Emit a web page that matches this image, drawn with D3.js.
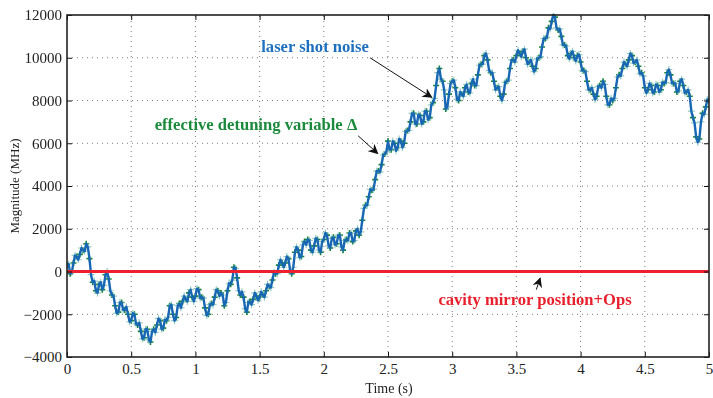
<!DOCTYPE html>
<html>
<head>
<meta charset="utf-8">
<script src="https://cdn.jsdelivr.net/npm/d3@7"></script>
<style>
  html, body { margin: 0; padding: 0; background: #fff; }
  svg { display: block; }
  text { font-family: "Liberation Serif", "Times New Roman", serif; }
</style>
</head>
<body>
<svg id="chart" width="713" height="398"></svg>
<script>
// Sampling interval (s) of the detuning trace; shot-noise samples sit halfway between.
const timeStep = 0.025;

// Effective detuning variable Δ (MHz), sampled at t = 0, 0.025, ..., 5 s
const detuning = [
  300, -100, 400, 700, 800, 1000, 1300, 600, -500, -900,
  -600, -850, -150, -350, -1100, -1600, -1900, -1450, -1800, -2000,
  -2300, -2000, -2500, -2800, -3100, -2700, -3300, -2700, -2500, -2300,
  -2650, -2300, -1600, -2000, -2150, -1500, -1400, -1300, -1000, -1200,
  -1150, -850, -1200, -1700, -2000, -1500, -1200, -900, -1000, -1600,
  -900, -600, 200, -300, -1100, -1200, -1900, -1400, -1300, -1150,
  -1200, -1100, -900, -700, -400, -100, 300, 400, 400, 600,
  -100, 900, 1000, 700, 1400, 1500, 1000, 1200, 1500, 900,
  1500, 1700, 1100, 1600, 1300, 1700, 1000, 1500, 1800, 1400,
  1900, 1700, 2400, 3100, 3500, 3800, 4300, 4700, 5000, 5500,
  6100, 5700, 6000, 5800, 6100, 6000, 6600, 7000, 7400, 6900,
  7300, 7000, 7500, 7200, 7900, 8700, 9500, 8900, 7600, 8300,
  8900, 8600, 8000, 8300, 8600, 8400, 8800, 8700, 9200, 9700,
  10100, 9900, 9300, 8900, 8600, 8200, 8300, 8900, 9500, 9900,
  10100, 10200, 10300, 10000, 9800, 9600, 9500, 10000, 10500, 10900,
  11400, 11700, 11900, 11300, 11000, 10600, 10100, 10200, 10000, 10100,
  9800, 9400, 8900, 8500, 8300, 8200, 8700, 8900, 8200, 7800,
  8000, 8600, 9200, 9500, 9700, 9900, 10100, 9800, 9600, 9300,
  8600, 8500, 8700, 8400, 8700, 8500, 8800, 9300, 9200, 8800,
  8400, 8900, 8700, 8400, 8200, 7200, 6300, 6200, 7400, 7700,
  8000
];

// Laser shot noise (MHz), sampled at t = 0.0125, 0.0375, ..., 4.9875 s
const shotNoise = [
  350, -50, 750, 550, 1100, 950, 1150, -150, -450, -1000,
  -500, -650, 0, -900, -1150, -1950, -1450, -1800, -1650, -2350,
  -1950, -2450, -2400, -3150, -2700, -3200, -2800, -2850, -2200, -2700,
  -2250, -2150, -1550, -2300, -1600, -1700, -1150, -1400, -850, -1400,
  -800, -1250, -1250, -2050, -1550, -1550, -850, -1150, -1100, -1450,
  -550, -400, 150, -900, -950, -1750, -1450, -1550, -1000, -1350,
  -950, -1200, -600, -750, -50, -100, 550, 200, 700, 50,
  200, 1150, 650, 1250, 1250, 1450, 900, 1550, 1000, 1400,
  1800, 1200, 1550, 1250, 1700, 1150, 1450, 1450, 1800, 1450,
  2000, 1850, 2950, 3100, 3850, 3850, 4700, 4650, 5450, 5600,
  5700, 6100, 5650, 6200, 5800, 6550, 6600, 7400, 6900, 7350,
  6900, 7500, 7100, 7800, 8100, 9300, 9000, 8500, 7700, 8800,
  8950, 8050, 8400, 8200, 8750, 8350, 9000, 8700, 9650, 9700,
  10200, 9400, 9300, 8500, 8650, 8000, 8850, 8950, 9900, 9800,
  10350, 10050, 10400, 9700, 9900, 9350, 9950, 10050, 10900, 10950,
  11350, 12000, 11400, 11350, 10600, 10550, 9950, 10300, 9850, 10150,
  9400, 9350, 8500, 8600, 8050, 8650, 8600, 8750, 7800, 8100,
  8100, 9100, 9150, 9800, 9600, 10200, 9750, 9900, 9250, 9150,
  8350, 8800, 8350, 8750, 8400, 8850, 8850, 9450, 8800, 8800,
  8450, 9000, 8350, 8500, 7500, 6950, 6050, 7000, 7350, 8050
];

// Cavity mirror position + Ops (MHz): flat at zero over the whole record
const mirrorTimes = [0, 5];
const mirrorValues = [0, 0];

// Axis ticks
const xTicks = [0, 0.5, 1, 1.5, 2, 2.5, 3, 3.5, 4, 4.5, 5];
const yTicks = [-4000, -2000, 0, 2000, 4000, 6000, 8000, 10000, 12000];

const labels = {
  x: "Time (s)",
  y: "Magnitude (MHz)",
  shot: "laser shot noise",
  detune: "effective detuning variable \u0394",
  mirror: "cavity mirror position+Ops"
};

const colors = {
  shotLine: "#1767b4",
  shotMark: "#8fc9c3",
  detune: "#17853c",
  mirror: "#ee2030",
  shotText: "#1d6fc0",
  detuneText: "#1b8a3c",
  mirrorText: "#e8202c"
};

const margin = { left: 67, right: 4, top: 15, bottom: 41 };
const W = 713, H = 398;

const svg = d3.select("#chart");
const x = d3.scaleLinear().domain([0, 5]).range([margin.left, W - margin.right]);
const y = d3.scaleLinear().domain([-4000, 12000]).range([H - margin.bottom, margin.top]);

const detuneData = detuning.map((v, i) => ({ t: i * timeStep, v }));
const shotData = shotNoise.map((v, i) => ({ t: (i + 0.5) * timeStep, v }));
const mirrorData = mirrorTimes.map((t, i) => ({ t, v: mirrorValues[i] }));

svg.append("defs").append("clipPath").attr("id", "plotClip")
  .append("rect")
  .attr("x", x(0)).attr("y", y(12000) - 2)
  .attr("width", x(5) - x(0)).attr("height", y(-4000) - y(12000) + 2);

// Dotted grid
const grid = svg.append("g").attr("stroke", "#555").attr("stroke-width", 0.8)
  .attr("stroke-dasharray", "1,4");
grid.selectAll(".gx").data(xTicks.slice(1, -1)).join("line")
  .attr("x1", d => x(d)).attr("x2", d => x(d))
  .attr("y1", y(-4000)).attr("y2", y(12000));
grid.selectAll(".gy").data(yTicks.slice(1, -1)).join("line")
  .attr("y1", d => y(d)).attr("y2", d => y(d))
  .attr("x1", x(0)).attr("x2", x(5));

const plot = svg.append("g").attr("clip-path", "url(#plotClip)");

// Cross marker path centred on the origin
const cross = s => `M${-s},0H${s}M0,${-s}V${s}`;

// Detuning variable: green crosses
plot.append("g").attr("stroke", colors.detune).attr("stroke-width", 1.6)
  .selectAll("path").data(detuneData).join("path")
  .attr("transform", d => `translate(${x(d.t)},${y(d.v)})`)
  .attr("d", cross(3));

// Shot-noise markers: pale crosses
plot.append("g").attr("stroke", colors.shotMark).attr("stroke-width", 1.2)
  .attr("opacity", 0.95)
  .selectAll("path").data(shotData).join("path")
  .attr("transform", d => `translate(${x(d.t)},${y(d.v)})`)
  .attr("d", cross(3.5));

// Combined trace line through both sample sets, ordered in time
const traceData = detuneData.concat(shotData).sort((a, b) => a.t - b.t);
plot.append("path").datum(traceData)
  .attr("fill", "none").attr("stroke", colors.shotLine).attr("stroke-width", 2.4)
  .attr("stroke-linejoin", "round")
  .attr("d", d3.line().x(d => x(d.t)).y(d => y(d.v)));

// Mirror position + Ops: red line at zero
plot.append("path").datum(mirrorData)
  .attr("fill", "none").attr("stroke", colors.mirror).attr("stroke-width", 3)
  .attr("d", d3.line().x(d => x(d.t)).y(d => y(d.v)));

// Axes with inward ticks (on all four sides)
const tickLen = 5;
const axisFont = 15;
const xAxisB = d3.axisBottom(x).tickValues(xTicks).tickSize(-tickLen).tickPadding(6)
  .tickFormat(d3.format("~g"));
const xAxisT = d3.axisTop(x).tickValues(xTicks).tickSize(-tickLen).tickFormat("");
const yAxisL = d3.axisLeft(y).tickValues(yTicks).tickSize(-tickLen).tickPadding(5)
  .tickFormat(d => d < 0 ? "\u2212" + Math.abs(d) : String(d));
const yAxisR = d3.axisRight(y).tickValues(yTicks).tickSize(-tickLen).tickFormat("");

function styleAxis(g) {
  g.select(".domain").remove();
  g.selectAll(".tick line").attr("stroke", "#111").attr("stroke-width", 1);
  g.selectAll(".tick text").attr("fill", "#222").style("font-size", axisFont + "px")
    .style("font-family", "'Liberation Serif', serif");
}
svg.append("g").attr("transform", `translate(0,${y(-4000)})`).call(xAxisB).call(styleAxis);
svg.append("g").attr("transform", `translate(0,${y(12000)})`).call(xAxisT).call(styleAxis);
svg.append("g").attr("transform", `translate(${x(0)},0)`).call(yAxisL).call(styleAxis);
svg.append("g").attr("transform", `translate(${x(5)},0)`).call(yAxisR).call(styleAxis);

// Frame
svg.append("rect")
  .attr("x", x(0)).attr("y", y(12000))
  .attr("width", x(5) - x(0)).attr("height", y(-4000) - y(12000))
  .attr("fill", "none").attr("stroke", "#222").attr("stroke-width", 1.6);

// Axis titles
svg.append("text").attr("x", (x(0) + x(5)) / 2 + 1).attr("y", 393)
  .attr("text-anchor", "middle").style("font-size", "14px").attr("fill", "#222")
  .text(labels.x);
svg.append("text")
  .attr("transform", `translate(19,${(y(-4000) + y(12000)) / 2}) rotate(-90)`)
  .attr("text-anchor", "middle").style("font-size", "13px").attr("fill", "#222")
  .text(labels.y);

// Annotations
const ann = svg.append("g").style("font-weight", "bold").style("font-size", "16.6px");
ann.append("text").attr("x", 315).attr("y", 52).attr("text-anchor", "middle")
  .attr("fill", colors.shotText).text(labels.shot);
ann.append("text").attr("x", 256).attr("y", 130).attr("text-anchor", "middle")
  .attr("fill", colors.detuneText).text(labels.detune);
ann.append("text").attr("x", 535).attr("y", 305).attr("text-anchor", "middle")
  .attr("fill", colors.mirrorText).text(labels.mirror);

// Arrows pointing at the traces
const arrowDefs = svg.select("defs");
arrowDefs.append("marker").attr("id", "arrowHead")
  .attr("viewBox", "0 0 10 10").attr("refX", 9).attr("refY", 5)
  .attr("markerWidth", 10).attr("markerHeight", 10)
  .attr("markerUnits", "userSpaceOnUse").attr("orient", "auto")
  .append("path").attr("d", "M0,0L10,5L0,10L3,5Z").attr("fill", "#111");

function arrow(t0, v0, t1, v1) {
  svg.append("line")
    .attr("x1", x(t0)).attr("y1", y(v0)).attr("x2", x(t1)).attr("y2", y(v1))
    .attr("stroke", "#111").attr("stroke-width", 1)
    .attr("marker-end", "url(#arrowHead)");
}
arrow(2.36, 10000, 2.84, 8150);
arrow(2.267, 6350, 2.42, 5520);
arrow(3.655, -850, 3.685, -310);
</script>
</body>
</html>
